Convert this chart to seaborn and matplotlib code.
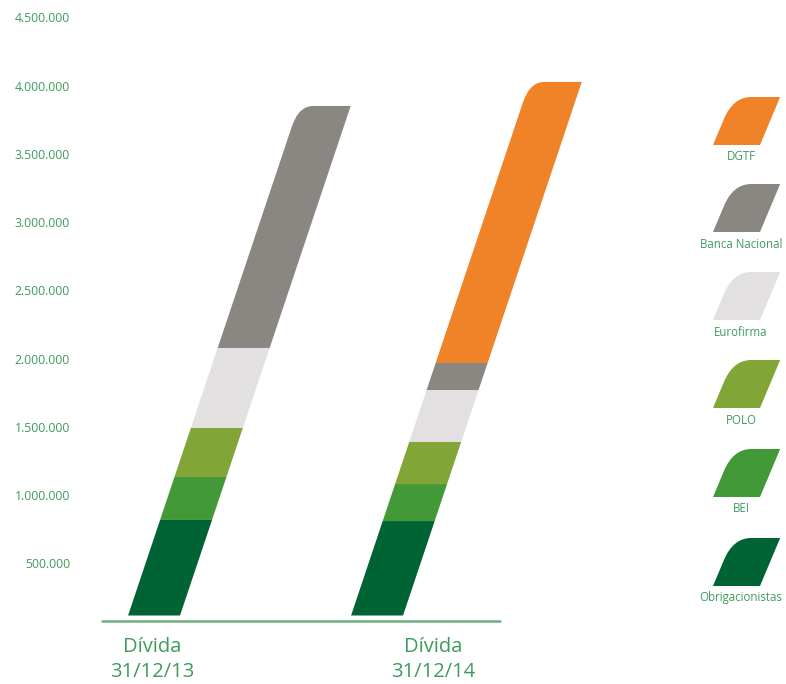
import numpy as np
import matplotlib
matplotlib.use("Agg")
import matplotlib.pyplot as plt
import seaborn as sns
from matplotlib.path import Path
from matplotlib.patches import PathPatch
from matplotlib.transforms import Affine2D, blended_transform_factory, ScaledTranslation

# data (in euros)
categories = ["Dívida\n31/12/13", "Dívida\n31/12/14"]
obrigacionistas = [700000, 692000]
bei = [315000, 271000]
polo = [359000, 308000]
eurofirma = [586000, 381000]
banca_nacional = [1773000, 198000]
dgtf = [0, 2059000]

series_names = ["Obrigacionistas", "BEI", "POLO", "Eurofirma", "Banca Nacional", "DGTF"]
series_values = [obrigacionistas, bei, polo, eurofirma, banca_nacional, dgtf]
colors = ["#006333", "#439838", "#82A537", "#E2E0E0", "#8A8682", "#F08228"]
yticks = [500000, 1000000, 1500000, 2000000, 2500000, 3000000, 3500000, 4000000, 4500000]

TXT = "#3E9B5C"
sns.set_style("white")
plt.rcParams["font.family"] = ["Open Sans", "DejaVu Sans"]


def bar_path(x0, y0, w, h, rx=0.0, ry=0.0):
    ''' rectangle path, optionally with a rounded top-left corner '''
    x1, y1 = x0 + w, y0 + h
    if rx > 0 and h > 0:
        ry = min(ry, h)
        verts = [(x0, y0), (x1, y0), (x1, y1), (x0 + rx, y1), (x0, y1), (x0, y1 - ry), (x0, y0)]
        codes = [Path.MOVETO, Path.LINETO, Path.LINETO, Path.LINETO,
                 Path.CURVE3, Path.CURVE3, Path.CLOSEPOLY]
    else:
        verts = [(x0, y0), (x1, y0), (x1, y1), (x0, y1), (x0, y0)]
        codes = [Path.MOVETO, Path.LINETO, Path.LINETO, Path.LINETO, Path.CLOSEPOLY]
    return Path(verts, codes)


fig = plt.figure(figsize=(7.86, 6.84), dpi=100)
ax = fig.add_axes([80 / 786, 1 - 629.15 / 684, 620 / 786, 629.25 / 684])

# slant: x shifts by k category-units per euro of height
k = 0.205e-6
skew = Affine2D.from_values(1, 0, k, 1, 0, 0)

# which layer is the top one for each bar (gets the rounded corner)
top_layer = [max(i for i, v in enumerate(series_values) if v[j] > 0) for j in range(len(categories))]

bottom = np.zeros(len(categories))
for li, (name, vals, col) in enumerate(zip(series_names, series_values, colors)):
    n0 = len(ax.patches)
    sns.barplot(x=categories, y=vals, color=col, saturation=1, width=0.233,
                bottom=bottom, errorbar=None, ax=ax)
    new = list(ax.patches[n0:])
    for j, p in enumerate(new):
        x0, y0, w, h = p.get_x(), p.get_y(), p.get_width(), p.get_height()
        p.remove()
        if h <= 0:
            continue
        if li == top_layer[j]:
            path = bar_path(x0, y0, w, h, rx=0.065, ry=150000)
        else:
            path = bar_path(x0, y0, w, h)
        ax.add_patch(PathPatch(path, facecolor=col, edgecolor="none",
                               transform=skew + ax.transData))
    bottom = bottom + np.array(vals)

ax.set_xlim(-0.332, 2.448)
ax.set_ylim(-100000, 4510000)
sns.despine(ax=ax, left=True, bottom=True)
ax.set_xlabel("")
ax.set_ylabel("")
ax.set_yticks([])

# baseline
ax.axhline(-40000, xmin=22 / 620, xmax=420 / 620, color="#6DAF80", lw=1.8)

# y labels (set a bit below their value, like the original)
lab_tr = blended_transform_factory(ax.transAxes, ax.transData) + \
    ScaledTranslation(-0.10, -0.175, fig.dpi_scale_trans)
for v in yticks:
    ax.text(0, v, f"{v:,.0f}".replace(",", "."), transform=lab_tr,
            ha="right", va="center", fontsize=8.8, color=TXT)

ax.set_xticks([-0.01, 1.25])
ax.set_xticklabels(categories, fontsize=14.5, color=TXT, linespacing=1.3)
ax.tick_params(axis="x", length=0, pad=6)

# legend with slanted swatches
lax = fig.add_axes([0, 0, 1, 1])
lax.set_xlim(0, 786)
lax.set_ylim(684, 0)
lax.axis("off")
lab_y = [157, 244, 332, 420, 509, 598]
leg_skew = Affine2D.from_values(1, 0, -0.42, 1, 0, 0)
for name, col, ly in zip(series_names[::-1], colors[::-1], lab_y):
    yb = ly - 12
    verts = [(0, 0), (47, 0), (47, -48), (18, -48), (0, -48), (0, -26), (0, 0)]
    codes = [Path.MOVETO, Path.LINETO, Path.LINETO, Path.LINETO,
             Path.CURVE3, Path.CURVE3, Path.CLOSEPOLY]
    tr = leg_skew + Affine2D().translate(713, yb) + lax.transData
    lax.add_patch(PathPatch(Path(verts, codes), facecolor=col, edgecolor="none", transform=tr))
    lax.text(741, ly, name, ha="center", va="center", fontsize=8.3, color=TXT)

fig.savefig("out.png", dpi=100)
